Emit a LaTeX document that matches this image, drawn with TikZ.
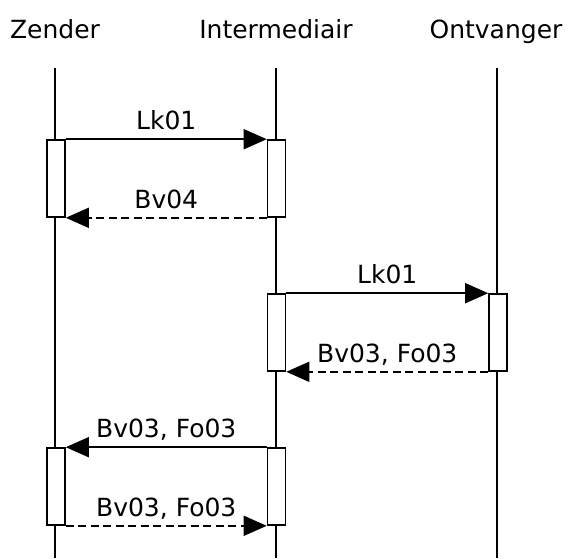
\documentclass[tikz,border=0pt]{standalone}
\usepackage{fontspec}
\setmainfont{DejaVu Sans}
\usetikzlibrary{arrows.meta}

\tikzset{
  head/.style={anchor=base, inner sep=0pt},
  actbox/.style={draw, fill=white, minimum width=18pt, minimum height=77pt, inner sep=0pt},
  msg/.style={-{Triangle[length=23pt, width=20pt]}},
  reply/.style={msg, dash pattern=on 8pt off 4.5pt},
  msglabel/.style={midway, anchor=base, yshift=9.5pt, inner sep=0pt},
}

\begin{document}
\begin{tikzpicture}[x=1pt, y=-1pt, line width=1.6pt, font=\fontsize{25}{30}\selectfont]
\useasboundingbox (0,0) rectangle (570,558);
% lifeline heads
\node[head] (zen) at (55,38) {Zender};
\node[head] (int) at (276,38) {Intermediair};
\node[head] (ont) at (496,38) {Ontvanger};
% lifelines
\coordinate (zen top) at (55,68);  \coordinate (zen bot) at (55,558);
\coordinate (int top) at (276,68); \coordinate (int bot) at (276,558);
\coordinate (ont top) at (497,68); \coordinate (ont bot) at (497,558);
\draw (zen top) -- (zen bot);
\draw (int top) -- (int bot);
\draw (ont top) -- (ont bot);
% activation boxes
\node[actbox] (z1) at (56,178.5) {};
\node[actbox] (i1) at (276.5,178.5) {};
\node[actbox] (i2) at (276.5,332.5) {};
\node[actbox] (o2) at (498,332.5) {};
\node[actbox] (z3) at (56,486.5) {};
\node[actbox] (i3) at (276.5,486.5) {};
% messages
\draw[msg] (z1.north east) -- (i1.north west) node[msglabel] {Lk01};
\draw[reply] (i1.south west) -- (z1.south east) node[msglabel] {Bv04};
\draw[msg] (i2.north east) -- (o2.north west) node[msglabel] {Lk01};
\draw[reply] (o2.south west) -- (i2.south east) node[msglabel] {Bv03, Fo03};
\draw[msg] (i3.north west) -- (z3.north east) node[msglabel] {Bv03, Fo03};
\draw[reply] (z3.south east) -- (i3.south west) node[msglabel] {Bv03, Fo03};
\end{tikzpicture}
\end{document}
